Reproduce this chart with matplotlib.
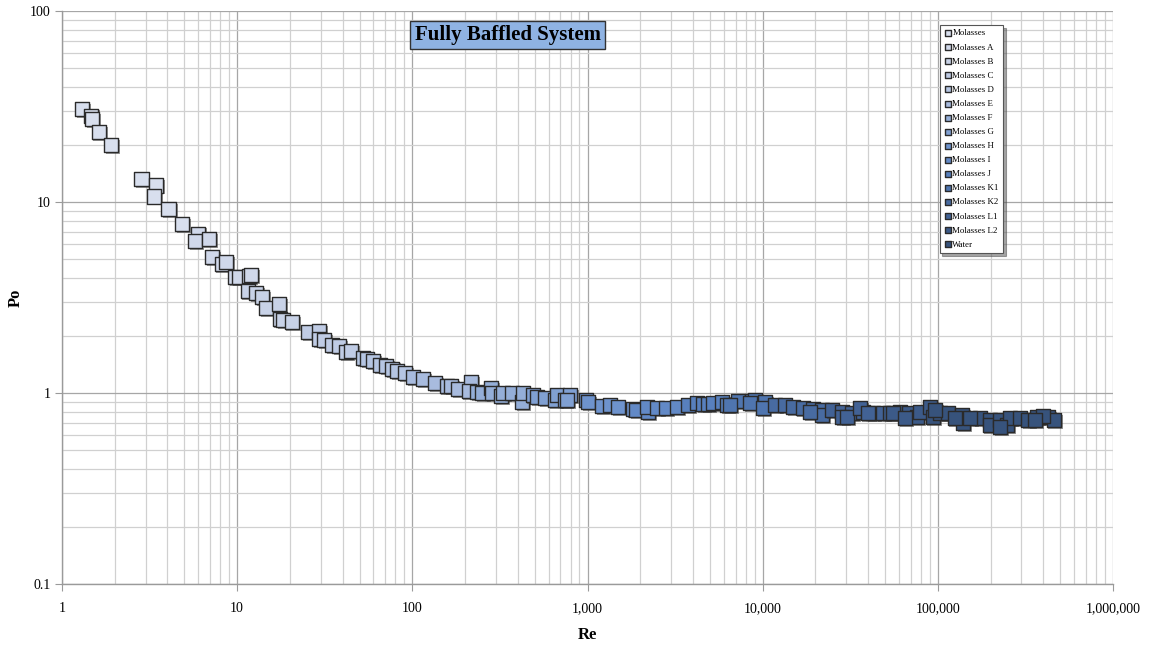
import matplotlib
matplotlib.use("Agg")
import matplotlib.pyplot as plt
import matplotlib.patheffects as pe
from matplotlib.ticker import LogLocator, FixedLocator, FixedFormatter, NullFormatter

plt.rcParams['font.family'] = ['Liberation Serif', 'DejaVu Serif']

# Power number vs Reynolds number, one series per fluid
series_names = ["Molasses", "Molasses A", "Molasses B", "Molasses C", "Molasses D",
                "Molasses E", "Molasses F", "Molasses G", "Molasses H", "Molasses I",
                "Molasses J", "Molasses K1", "Molasses K2", "Molasses L1", "Molasses L2",
                "Water"]

series_colors = ["#d8dfee", "#d0d8ea", "#c8d2e7", "#c0cce5", "#b5c5e2", "#a8bbde",
                 "#94aed8", "#80a0d2", "#6e93cd", "#6289c6", "#5880bd", "#4f75af",
                 "#486ba1", "#426295", "#3c5a88", "#37537c"]

re_molasses = [1.30, 1.46, 1.49, 1.62, 1.91, 2.84, 3.43, 3.36, 4.06, 4.86]
po_molasses = [30.7, 28.3, 27.1, 23.3, 19.9, 13.2, 12.2, 10.7, 9.16, 7.67]

re_a = [6.0, 5.77, 6.90, 7.18, 8.16, 8.6, 9.71, 10.2, 11.7, 12.0]
po_a = [6.82, 6.27, 6.38, 5.13, 4.73, 4.85, 4.05, 4.05, 4.10, 4.15]

re_b = [11.5, 12.8, 13.9, 14.6, 17.3, 17.5, 18.3, 20.5]
po_b = [3.42, 3.34, 3.18, 2.79, 2.92, 2.44, 2.41, 2.35]

re_c = [25.4, 29.3, 29.3, 31.3, 34.8, 38.1, 41.8, 44.6]
po_c = [2.09, 2.11, 1.92, 1.89, 1.78, 1.76, 1.64, 1.66]

re_d = [52.3, 55.1, 59.6, 65.3, 70.7, 76.5, 81.7, 90.7]
po_d = [1.52, 1.51, 1.47, 1.40, 1.38, 1.34, 1.30, 1.27]

re_e = [101, 115, 135, 157, 166, 182, 216, 210]
po_e = [1.21, 1.18, 1.13, 1.09, 1.09, 1.05, 1.14, 1.02]

re_f = [234, 250, 281, 285, 320, 329, 370, 422, 428]
po_f = [1.01, 1.00, 1.06, 1.00, 0.965, 1.00, 1.00, 0.897, 1.00]

re_g = [487, 514, 571, 652, 669, 743, 794, 763]
po_g = [0.977, 0.953, 0.941, 0.919, 0.977, 0.919, 0.977, 0.919]

re_h = [979, 1005, 1208, 1342, 1492, 1817]
po_h = [0.919, 0.897, 0.855, 0.865, 0.845, 0.825]

re_i = [1890, 2213, 2184, 2490, 2801, 3236]
po_i = [0.815, 0.796, 0.845, 0.834, 0.834, 0.845]

re_j = [3741, 4210, 4556, 4866, 5200, 5850, 6250]
po_j = [0.865, 0.886, 0.876, 0.876, 0.886, 0.897, 0.865]

re_k1 = [7215, 6500, 8670, 9020, 10280, 8450, 10030]
po_k1 = [0.908, 0.865, 0.908, 0.919, 0.897, 0.886, 0.834]

re_k2 = [11750, 13400, 14870, 16950, 19360, 21780, 21780, 18600]
po_k2 = [0.865, 0.865, 0.845, 0.834, 0.825, 0.815, 0.767, 0.796]

re_l1 = [24840, 28330, 32300, 37300, 42560, 48530, 28330, 30260, 35900, 39800]
po_l1 = [0.815, 0.796, 0.786, 0.796, 0.786, 0.786, 0.749, 0.749, 0.834, 0.786]

re_l2 = [53200, 60700, 68260, 75850, 78870, 89950, 55300, 64800]
po_l2 = [0.786, 0.796, 0.786, 0.749, 0.796, 0.845, 0.786, 0.740]

re_water = [93600, 102600, 114000, 137000, 139000, 174000, 198000, 198000, 226000,
            248000, 258000, 294000, 327000, 368000, 424000, 459000, 397000,
            96100, 125000, 152000, 358000, 226000]
po_water = [0.749, 0.786, 0.786, 0.767, 0.697, 0.740, 0.722, 0.680, 0.722,
            0.680, 0.740, 0.740, 0.722, 0.749, 0.749, 0.722, 0.758,
            0.815, 0.740, 0.740, 0.722, 0.664]

re_data = [re_molasses, re_a, re_b, re_c, re_d, re_e, re_f, re_g, re_h, re_i,
           re_j, re_k1, re_k2, re_l1, re_l2, re_water]
po_data = [po_molasses, po_a, po_b, po_c, po_d, po_e, po_f, po_g, po_h, po_i,
           po_j, po_k1, po_k2, po_l1, po_l2, po_water]

x_ticks = [1, 10, 100, 1000, 10000, 100000, 1000000]
x_tick_labels = ["1", "10", "100", "1,000", "10,000", "100,000", "1,000,000"]
y_ticks = [0.1, 1, 10, 100]
y_tick_labels = ["0.1", "1", "10", "100"]

fig = plt.figure(figsize=(11.55, 6.47), dpi=100)
ax = fig.add_axes([62 / 1155, 1 - 584 / 647, (1113 - 62) / 1155, (584 - 11) / 647])
ax.set_xscale("log")
ax.set_yscale("log")
ax.set_xlim(1, 1e6)
ax.set_ylim(0.1, 100)

shadow = [pe.SimplePatchShadow(offset=(1.3, -1.3), shadow_rgbFace="0.25", alpha=0.55),
          pe.Normal()]
for name, color, xs, ys in zip(series_names, series_colors, re_data, po_data):
    sc = ax.scatter(xs, ys, s=105, marker="s", facecolor=color, edgecolor="#2a2a2a",
                    linewidths=1.0, label=name, zorder=3)
    sc.set_path_effects(shadow)

# grid
ax.xaxis.set_major_locator(FixedLocator(x_ticks))
ax.xaxis.set_major_formatter(FixedFormatter(x_tick_labels))
ax.yaxis.set_major_locator(FixedLocator(y_ticks))
ax.yaxis.set_major_formatter(FixedFormatter(y_tick_labels))
ax.xaxis.set_minor_locator(LogLocator(base=10, subs=range(2, 10), numticks=20))
ax.yaxis.set_minor_locator(LogLocator(base=10, subs=range(2, 10), numticks=20))
ax.xaxis.set_minor_formatter(NullFormatter())
ax.yaxis.set_minor_formatter(NullFormatter())
ax.grid(True, which="major", color="#a6a6a6", linewidth=0.9, zorder=0)
ax.grid(True, which="minor", color="#d0d0d0", linewidth=0.9, zorder=0)
ax.set_axisbelow(True)

for side in ("top", "right"):
    ax.spines[side].set_visible(False)
for side in ("left", "bottom"):
    ax.spines[side].set_color("#9a9a9a")
    ax.spines[side].set_linewidth(1.0)

ax.tick_params(which="major", length=5, color="#9a9a9a", labelsize=10)
ax.tick_params(axis="x", which="major", pad=8)
ax.tick_params(axis="y", which="major", pad=3)
ax.tick_params(which="minor", length=0)

ax.set_xlabel("Re", fontsize=12, fontweight="bold", va="center")
ax.set_ylabel("Po", fontsize=12, fontweight="bold", va="center")
ax.xaxis.set_label_coords(0.5, -0.089)
ax.yaxis.set_label_coords(-0.044, 0.5)

ax.text(0.424, 0.958, "Fully Baffled System", transform=ax.transAxes,
        ha="center", va="center", fontsize=15, fontweight="bold",
        bbox=dict(boxstyle="square,pad=0.2", facecolor="#8fb3e3",
                  edgecolor="#333333", linewidth=1.0), zorder=5)

leg = ax.legend(loc="upper left", bbox_to_anchor=(0.835, 0.976), fontsize=6.4,
                markerscale=0.42, labelspacing=0.66, handletextpad=0.15,
                borderpad=0.5, handlelength=0.8, frameon=True, fancybox=False,
                shadow=True, borderaxespad=0)
leg.get_frame().set_edgecolor("#555555")
leg.get_frame().set_linewidth(0.8)
for h in leg.legend_handles:
    h.set_path_effects([])

fig.savefig("out.png", dpi=100)
